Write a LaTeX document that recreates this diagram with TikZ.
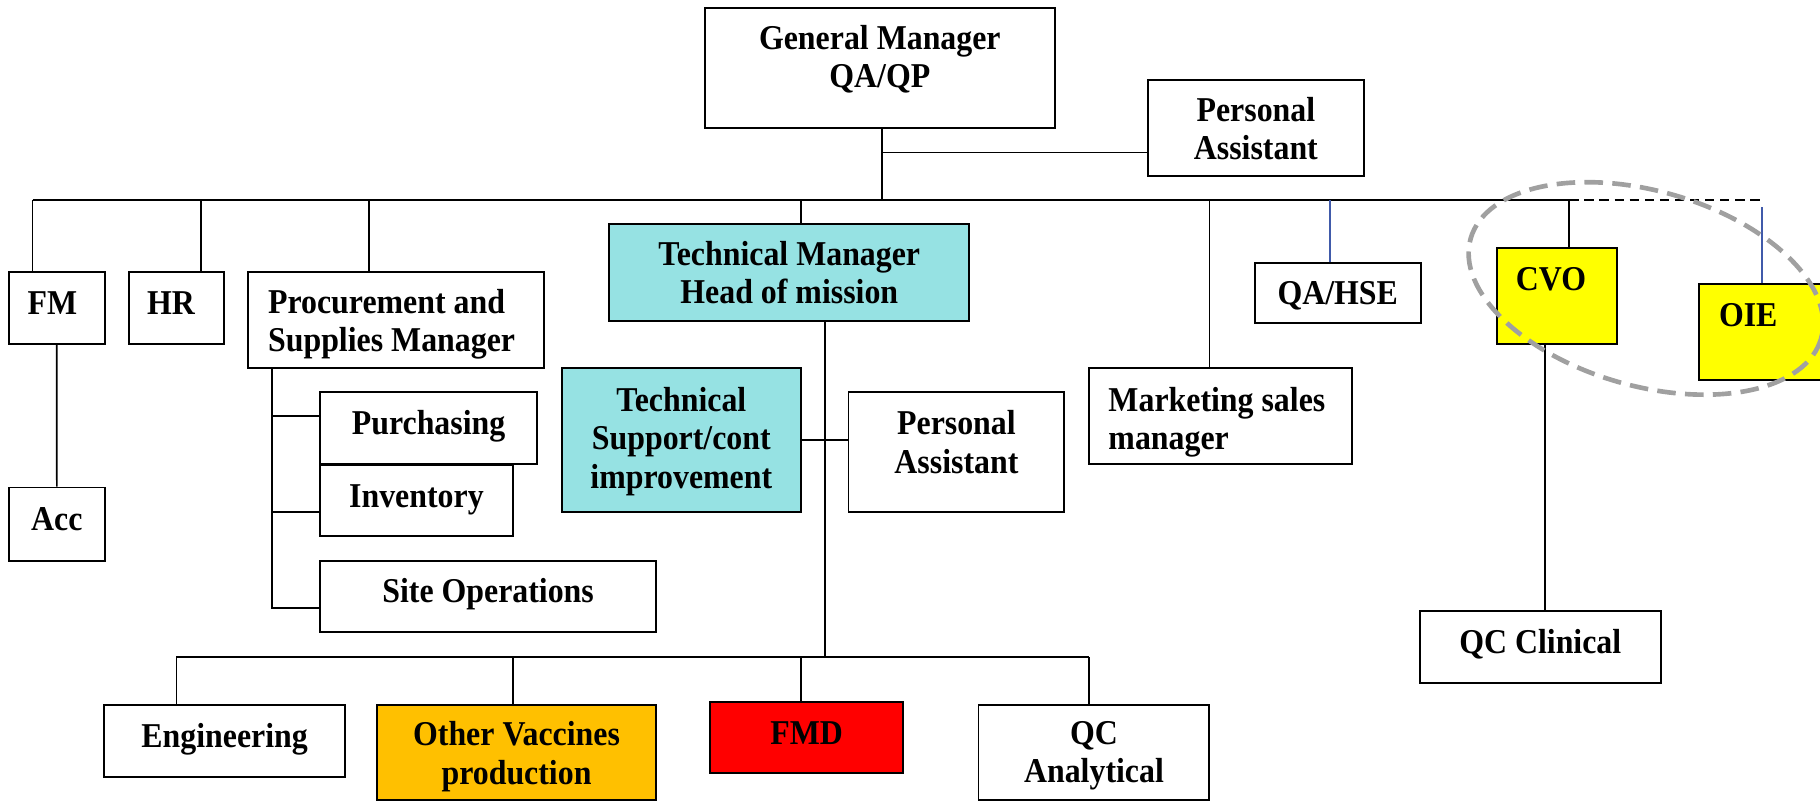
\documentclass[tikz,border=0pt]{standalone}
\usepackage{fontspec}
\setmainfont{Liberation Serif}[FakeStretch=0.915]
\usepackage{tikz}
\usetikzlibrary{calc}
\usepackage{xcolor}

\definecolor{tealbox}{RGB}{150,226,227}
\definecolor{cvoyellow}{RGB}{255,255,0}
\definecolor{vacorange}{RGB}{255,192,0}
\definecolor{fmdred}{RGB}{255,0,0}
\definecolor{linkblue}{RGB}{64,90,170}
\definecolor{ringgray}{RGB}{160,160,160}

% struts: deeper last line lifts the text, taller first line drops it
\newcommand\liftby[1]{\rule[-#1]{0pt}{#1}}
\newcommand\dropby[1]{\rule{0pt}{#1}}

\begin{document}
\begin{tikzpicture}[x=1pt, y=-1pt,
  box/.style={rectangle, draw, line width=1.7pt, fill=white, align=center, inner xsep=4pt, inner ysep=1pt, font=\fontsize{30}{33}\selectfont\bfseries},
  lbox/.style={box, align=flush left, inner xsep=16pt},
  link/.style={line width=1.5pt},
  bluelink/.style={line width=1.3pt, draw=linkblue}]

  \useasboundingbox (0,0) rectangle (1568,690);
  \clip (0,0) rectangle (1568,690);

  % top level
  \node[box, minimum width=302pt, minimum height=103.6pt] (gm) at (758,58.8) {General Manager\\QA/QP\liftby{20pt}};
  \node[box, minimum width=186pt, minimum height=82.6pt] (pa1) at (1082,110.3) {\dropby{22pt}Personal\\Assistant};

  % departments under the main bar
  \node[lbox, text width=50.3pt, minimum height=61.7pt] (fm) at (48.9,265.5) {FM\liftby{8pt}};
  \node[lbox, text width=50.6pt, minimum height=61.7pt] (hr) at (152.1,265.5) {HR\liftby{8pt}};
  \node[lbox, inner xsep=17pt, text width=221pt, minimum height=82.6pt] (proc) at (341.5,276) {\dropby{27.5pt}Procurement and\\Supplies Manager};
  \node[box, minimum width=83.2pt, minimum height=63pt] (acc) at (49,451.5) {Acc\liftby{9pt}};
  \node[box, minimum width=186.5pt, minimum height=62pt] (purch) at (369.25,369) {Purchasing\liftby{10.3pt}};
  \node[box, minimum width=165.6pt, minimum height=61.2pt] (inv) at (358.8,431.2) {Inventory\liftby{8.3pt}};
  \node[box, minimum width=289pt, minimum height=61.5pt] (site) at (420.5,513.75) {Site Operations\liftby{10.3pt}};

  \node[box, fill=tealbox, minimum width=310pt, minimum height=83.5pt] (tm) at (680,234.75) {Technical Manager\\Head of mission};
  \node[box, fill=tealbox, minimum width=206pt, minimum height=124pt] (ts) at (587,379) {\dropby{23.5pt}Technical\\Support/cont\\improvement};
  \node[box, minimum width=186pt, minimum height=103pt] (pa2) at (824,389.5) {Personal\\Assistant\liftby{17.3pt}};

  \node[lbox, inner xsep=17pt, text width=193pt, minimum height=83pt] (mkt) at (1051.5,358.5) {\dropby{31.5pt}Marketing sales\\manager};
  \node[box, minimum width=143pt, minimum height=51pt] (qahse) at (1152.5,252.5) {\dropby{25pt}QA/HSE};
  \node[lbox, fill=cvoyellow, text width=71pt, minimum height=82pt] (cvo) at (1341.5,255) {CVO\liftby{30pt}};
  \node[lbox, fill=cvoyellow, inner xsep=17pt, text width=72pt, minimum height=82pt] (oie) at (1517,286) {OIE\liftby{30pt}};
  \node[box, minimum width=208pt, minimum height=62.6pt] (qcc) at (1327,557.3) {QC Clinical\liftby{9.3pt}};

  % production row
  \node[box, minimum width=207pt, minimum height=62pt] (eng) at (193.5,638) {Engineering\liftby{8.3pt}};
  \node[box, fill=vacorange, minimum width=240pt, minimum height=82pt] (ovp) at (445,648) {\dropby{28.5pt}Other Vaccines\\production};
  \node[box, fill=fmdred, minimum width=166pt, minimum height=61.4pt] (fmd) at (695,635.3) {FMD\liftby{7.3pt}};
  \node[box, minimum width=199pt, minimum height=82pt] (qca) at (942.5,648) {\dropby{25.5pt}QC\\Analytical};

  % bars
  \coordinate (barL) at (28,172.5);
  \coordinate (barR) at (1352,172.5);
  \coordinate (botL) at (152,566);
  \coordinate (botR) at (938,566);
  \draw[link] (barL) -- (barR);
  \draw[link] (botL) -- (botR);

  \coordinate (gmdown) at ([xshift=2pt]gm.south);
  \coordinate (pajoin) at ([yshift=-21pt]pa1.west);
  \draw[link] (gmdown) -- (gmdown |- barL);
  \draw[link] (gmdown |- pajoin) -- (pajoin);

  \coordinate (hrtop) at ([xshift=21pt]hr.north);
  \coordinate (proctop) at ([xshift=-23.5pt]proc.north);
  \coordinate (tmtop) at ([xshift=10pt]tm.north);
  \coordinate (mkttop) at ([xshift=-9.5pt]mkt.north);
  \coordinate (qatop) at ([xshift=-6.5pt]qahse.north);
  \coordinate (cvotop) at ([xshift=10.5pt]cvo.north);
  \coordinate (oietop) at ([xshift=1pt]oie.north);
  \draw[link] (barL) -- (barL |- fm.north);
  \foreach \t in {hrtop, proctop, tmtop, mkttop, cvotop}
    \draw[link] (\t) -- (\t |- barL);
  \draw[bluelink] (qatop) -- (qatop |- barL);
  \draw[line width=1.3pt, dash pattern=on 8pt off 5pt] (barR) -- (oietop |- barR);
  \draw[bluelink] (oietop) -- ($(oietop |- barR)+(0,5.5)$);

  \draw[link] (fm.south) -- (acc.north);

  % procurement tree
  \coordinate (ptrunk) at ([xshift=21pt]proc.south west);
  \coordinate (purchin) at ([yshift=10.6pt]purch.west);
  \coordinate (invin) at ([yshift=-9.8pt]inv.west);
  \coordinate (sitein) at ([yshift=-10.25pt]site.west);
  \draw[link] (ptrunk) |- (sitein);
  \draw[link] (ptrunk |- purchin) -- (purchin);
  \draw[link] (ptrunk |- invin) -- (invin);

  % technical tree
  \coordinate (tmtrunk) at ([xshift=31pt]tm.south);
  \draw[link] (tmtrunk) -- (tmtrunk |- botL);
  \draw[link] (ts.east) -- (ts.east -| pa2.west);
  \coordinate (engtop) at ([xshift=-41.5pt]eng.north);
  \coordinate (ovptop) at ([xshift=-3pt]ovp.north);
  \coordinate (fmdtop) at ([xshift=-5pt]fmd.north);
  \coordinate (qcatop) at ([xshift=-4.5pt]qca.north);
  \foreach \t in {engtop, ovptop, fmdtop, qcatop}
    \draw[link] (\t) -- (\t |- botL);

  \coordinate (cvodown) at ([xshift=-10.5pt]cvo.south);
  \draw[link] (cvodown) -- (cvodown |- qcc.north);

  % ring round CVO and OIE
  \draw[ringgray, line width=4pt, dash pattern=on 16pt off 8pt, rotate around={-15.9:(1418,248.5)}]
    (1418,248.5) ellipse [x radius=157, y radius=84];
\end{tikzpicture}
\end{document}
